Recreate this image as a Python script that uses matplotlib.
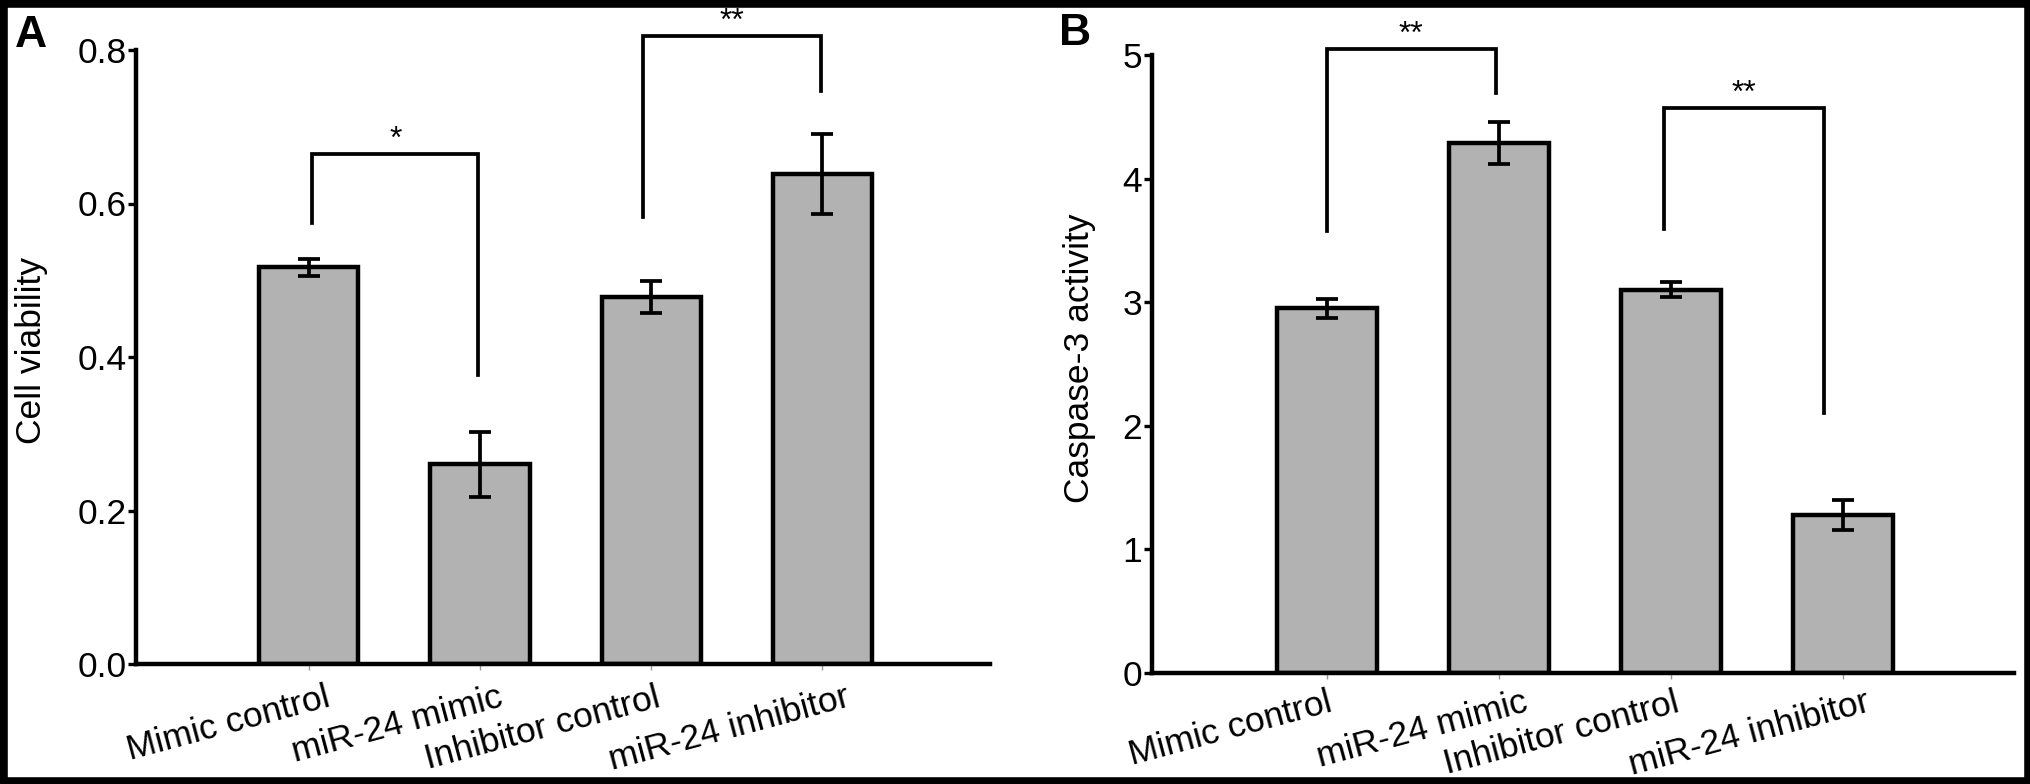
import numpy as np
import matplotlib.pyplot as plt
from matplotlib.patches import Rectangle

plt.rcParams['font.family'] = ['Liberation Sans', 'DejaVu Sans']

# Data
groups = ["Mimic control", "miR-24 mimic", "Inhibitor control", "miR-24 inhibitor"]
viability = [0.517, 0.260, 0.478, 0.638]
viability_err = [0.011, 0.042, 0.021, 0.052]
caspase = [2.95, 4.29, 3.10, 1.28]
caspase_err = [0.075, 0.17, 0.06, 0.12]

# significance brackets: (x left, x right, top, left leg end, right leg end, mark)
viability_sig = [(0.02, 0.99, 0.665, 0.574, 0.377, "*"),
                 (1.95, 2.99, 0.818, 0.582, 0.746, "**")]
caspase_sig = [(0.0, 0.98, 5.05, 3.58, 4.69, "**"),
               (1.96, 2.89, 4.57, 3.59, 2.10, "**")]

viability_ticks = [0.0, 0.2, 0.4, 0.6, 0.8]
caspase_ticks = [0, 1, 2, 3, 4, 5]

FS = 25.5
BAR = "#b2b2b2"

fig = plt.figure(figsize=(20.31, 7.84), dpi=100)
axA = fig.add_axes([136 / 2031, 1 - 664 / 784, 854 / 2031, 614 / 784])
axB = fig.add_axes([1152 / 2031, 1 - 673 / 784, 862 / 2031, 618 / 784])


def panel(ax, vals, errs, sig, ticks, ticklabels, ylabel, ylim, xlim,
          label_dx, label_dy, ylabel_x):
    x = np.arange(len(groups))
    ax.bar(x, vals, width=0.58, color=BAR, edgecolor="black", linewidth=3.2,
           zorder=2)
    ax.errorbar(x, vals, yerr=errs, fmt="none", ecolor="black",
                elinewidth=2.7, capsize=8, capthick=2.7, zorder=3)
    ax.set_xlim(*xlim)
    ax.set_ylim(*ylim)
    for s in ["top", "right"]:
        ax.spines[s].set_visible(False)
    for s in ["left", "bottom"]:
        ax.spines[s].set_linewidth(3.2)
    ax.set_yticks(ticks)
    ax.set_yticklabels(ticklabels, fontsize=FS)
    ax.tick_params(axis="y", length=6, width=2.4, pad=1)
    ax.set_xticks(x)
    ax.set_xticklabels([])
    ax.tick_params(axis="x", length=4, width=1, color="#999999")
    for i, g in enumerate(groups):
        ax.annotate(g, xy=(i, 0), xycoords="data",
                    xytext=(label_dx[i], label_dy), textcoords="offset pixels",
                    rotation=15, rotation_mode="anchor", ha="right", va="top",
                    fontsize=FS, annotation_clip=False)
    ax.set_ylabel(ylabel, fontsize=FS)
    ax.yaxis.set_label_coords(ylabel_x, 0.51)
    for x0, x1, top, yl, yr, mark in sig:
        ax.plot([x0, x0, x1, x1], [yl, top, top, yr], color="black",
                lw=2.7, solid_joinstyle="miter", clip_on=False, zorder=4)
        ax.annotate(mark, xy=((x0 + x1) / 2, top), xytext=(0, 6),
                    textcoords="offset pixels", ha="center", va="baseline",
                    fontsize=23, annotation_clip=False)


panel(axA, viability, viability_err, viability_sig, viability_ticks,
      ["%.1f" % t for t in viability_ticks], "Cell viability", (0, 0.8),
      (-1.01, 3.98), [16, 18, 4, 22], -17, -0.103)
panel(axB, caspase, caspase_err, caspase_sig, caspase_ticks,
      [str(t) for t in caspase_ticks], "Caspase-3 activity", (0, 5),
      (-1.017, 3.994), [0, 24, 3, 22], -13, -0.065)

fig.text(15 / 2031, 1 - 47 / 784, "A", fontsize=32, fontweight="bold",
         va="baseline", ha="left")
fig.text(1059 / 2031, 1 - 45 / 784, "B", fontsize=32, fontweight="bold",
         va="baseline", ha="left")

fig.patches.append(Rectangle((0, 0), 1, 1, transform=fig.transFigure,
                             fill=False, edgecolor="black", linewidth=10.5,
                             zorder=10))

fig.savefig("out.png", dpi=100)
